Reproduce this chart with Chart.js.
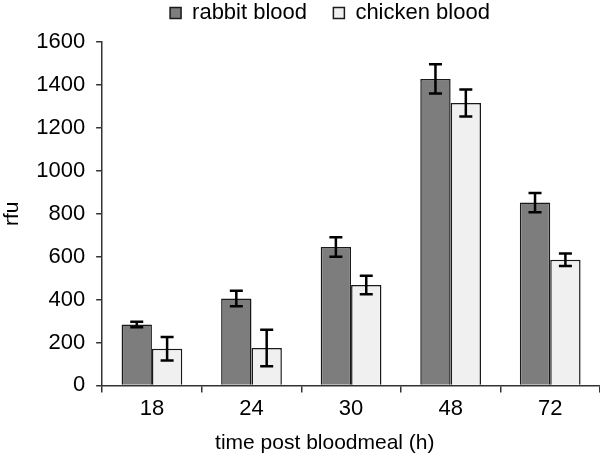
<!DOCTYPE html>
<html>
<head>
<meta charset="utf-8">
<script src="https://cdn.jsdelivr.net/npm/chart.js@4.4.1/dist/chart.umd.min.js"></script>
<style>
  html, body { margin: 0; padding: 0; background: #fff; }
</style>
</head>
<body>
<canvas id="rfuChart" width="600" height="456"></canvas>
<script>
// Data
const hours = ['18', '24', '30', '48', '72'];
const rabbitMean = [284, 405, 645, 1428, 852];
const rabbitErr = [13, 36, 45, 68, 45];
const chickenMean = [171, 174, 468, 1316, 585];
const chickenErr = [55, 85, 43, 63, 29];
const yTicks = [0, 200, 400, 600, 800, 1000, 1200, 1400, 1600];

const FONT = '"Liberation Sans", Arial, Helvetica, sans-serif';

// Draws the error bars on top of each bar, using the bar scale
const errorBars = {
    id: 'errorBars',
    afterDatasetsDraw(chart) {
        const ctx = chart.ctx;
        const yScale = chart.scales.y;
        const errs = [rabbitErr, chickenErr];
        ctx.save();
        ctx.strokeStyle = '#000';
        ctx.lineWidth = 2.5;
        chart.data.datasets.forEach(function(ds, i) {
            const meta = chart.getDatasetMeta(i);
            meta.data.forEach(function(bar, j) {
                const x = bar.x;
                const top = yScale.getPixelForValue(ds.data[j] + errs[i][j]);
                const bot = yScale.getPixelForValue(ds.data[j] - errs[i][j]);
                ctx.beginPath();
                ctx.moveTo(x, top);
                ctx.lineTo(x, bot);
                ctx.moveTo(x - 6.5, top);
                ctx.lineTo(x + 6.5, top);
                ctx.moveTo(x - 6.5, bot);
                ctx.lineTo(x + 6.5, bot);
                ctx.stroke();
            });
        });
        ctx.restore();
    }
};

// The legend in the original sits right of the page centre and close to the top edge
const legendShift = {
    id: 'legendShift',
    afterLayout(chart) {
        chart.legend.left += 30;
        chart.legend.right += 30;
        chart.legend.top -= 8;
        chart.legend.bottom -= 8;
    }
};

const ctx = document.getElementById('rfuChart').getContext('2d');
const chart = new Chart(ctx, {
    type: 'bar',
    data: {
        labels: hours,
        datasets: [
            {
                label: 'rabbit blood',
                data: rabbitMean,
                backgroundColor: '#7d7d7d',
                borderColor: '#1a1a1a',
                borderWidth: 1.5
            },
            {
                label: 'chicken blood',
                data: chickenMean,
                backgroundColor: '#f0f0f0',
                borderColor: '#1a1a1a',
                borderWidth: 1.5
            }
        ]
    },
    options: {
        responsive: false,
        animation: false,
        layout: { padding: { left: 0, right: 0, top: 2, bottom: 0 } },
        datasets: {
            bar: { categoryPercentage: 0.61, barPercentage: 1.0 }
        },
        plugins: {
            legend: {
                position: 'top',
                labels: {
                    color: '#000',
                    font: { family: FONT, size: 22 },
                    boxWidth: 11,
                    boxHeight: 11,
                    padding: 8,
                    useBorderRadius: false,
                    generateLabels: function(chart) {
                        const items = Chart.defaults.plugins.legend.labels.generateLabels(chart);
                        // wider gap after the first entry, as in the original
                        items[0].text = items[0].text + '\u00a0\u00a0\u00a0';
                        return items;
                    }
                }
            },
            tooltip: { enabled: false }
        },
        scales: {
            x: {
                offset: true,
                grid: {
                    offset: true,
                    drawOnChartArea: false,
                    drawTicks: true,
                    tickLength: 7,
                    color: '#333',
                    lineWidth: 1.5
                },
                border: { color: '#333', width: 1.5 },
                ticks: {
                    color: '#000',
                    font: { family: FONT, size: 22 },
                    padding: 3
                },
                title: {
                    display: true,
                    text: 'time post bloodmeal (h)\u00a0\u00a0\u00a0\u00a0\u00a0\u00a0\u00a0\u00a0\u00a0',
                    color: '#000',
                    font: { family: FONT, size: 21 },
                    padding: { top: 6, bottom: 0 }
                }
            },
            y: {
                min: 0,
                max: 1600,
                afterBuildTicks: function(axis) {
                    axis.ticks = yTicks.map(function(v) { return { value: v }; });
                },
                grid: {
                    drawOnChartArea: false,
                    drawTicks: true,
                    tickLength: 6,
                    color: '#333',
                    lineWidth: 1.5
                },
                border: { color: '#333', width: 1.5 },
                ticks: {
                    color: '#000',
                    font: { family: FONT, size: 22 },
                    padding: 11,
                    callback: function(value) { return String(value); }
                },
                title: {
                    display: true,
                    text: 'rfu',
                    color: '#000',
                    font: { family: FONT, size: 21 },
                    padding: { top: 0, bottom: 0 }
                }
            }
        }
    },
    plugins: [errorBars, legendShift]
});
</script>
</body>
</html>
